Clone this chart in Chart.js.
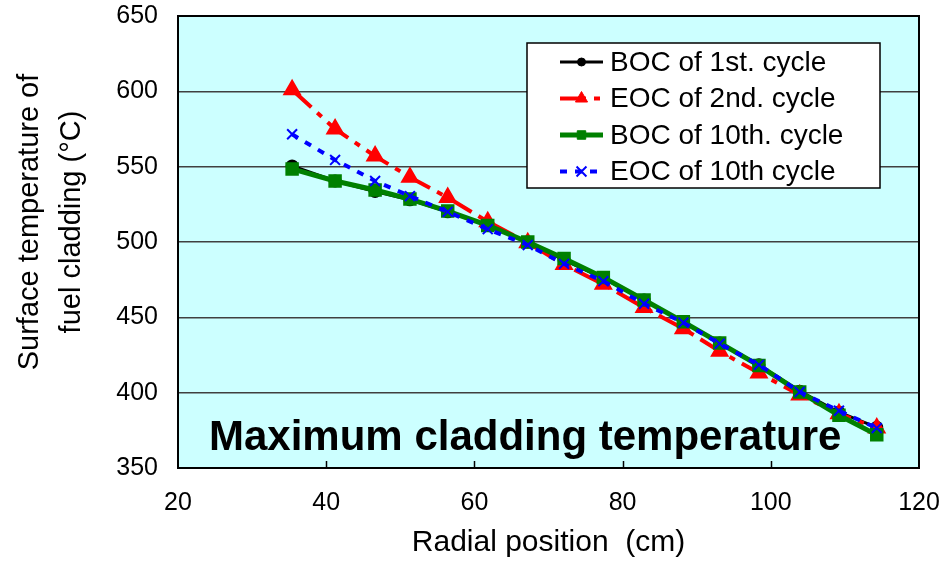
<!DOCTYPE html>
<html>
<head>
<meta charset="utf-8">
<script src="https://cdn.jsdelivr.net/npm/chart.js@4"></script>
<style>
  body { margin: 0; background: #fff; }
  #wrap { width: 939px; height: 565px; }
</style>
</head>
<body>
<div id="wrap"><canvas id="chart" width="939" height="565"></canvas></div>
<script>
// radial positions (cm)
const xs = [35.4, 41.2, 46.6, 51.3, 56.4, 61.8, 67.2, 72.1, 77.4, 82.9, 88.2, 93.1, 98.4, 103.9, 109.2, 114.3]
// surface temperature of cladding (degC)
const boc1 = [550.5, 540.5, 533.5, 528, 520, 511, 500, 488, 476, 461.5, 447, 433, 418.5, 401, 387, 377]
const eoc2 = [601, 575, 557, 543, 529.5, 513.5, 499.5, 485, 472, 456.5, 442.5, 427.5, 413, 398.5, 386, 376.5]
const boc10 = [548.5, 540.5, 534.5, 528.5, 520.5, 511, 500, 489, 476.5, 461.5, 447, 433, 418, 400.5, 385, 372]
const eoc10 = [571.5, 554.5, 540.5, 530.5, 520, 508.5, 498, 485.5, 474, 459, 446.5, 432.5, 418.5, 400.5, 388, 376.5]
const seriesNames = ['BOC of 1st. cycle', 'EOC of 2nd. cycle', 'BOC of 10th. cycle', 'EOC of 10th cycle']
const xTicks = [20, 40, 60, 80, 100, 120]
const yTicks = [350, 400, 450, 500, 550, 600, 650]
const yTitle = ['Surface temperature of', 'fuel cladding (°C)']

const FONT = '"Liberation Sans", Arial, sans-serif'
const pts = ys => xs.map((x, i) => ({ x: x, y: ys[i] }))

const datasets = [
  { label: seriesNames[0], data: pts(boc1), borderColor: '#000', backgroundColor: '#000',
    borderWidth: 3, pointStyle: 'circle', pointRadius: 5, order: 3 },
  { label: seriesNames[1], data: pts(eoc2), borderColor: '#ff0000', backgroundColor: '#ff0000',
    borderWidth: 4, borderDash: [26, 8, 6, 8], pointStyle: 'triangle', pointRadius: 7, order: 2 },
  { label: seriesNames[2], data: pts(boc10), borderColor: '#008000', backgroundColor: '#008000',
    borderWidth: 5, pointStyle: 'rect', pointRadius: 6, order: 1 },
  { label: seriesNames[3], data: pts(eoc10), borderColor: '#0000ff', backgroundColor: '#0000ff',
    borderWidth: 4, borderDash: [7, 8], pointStyle: 'crossRot', pointRadius: 7, pointBorderWidth: 2, order: 0 }
]
datasets.forEach(d => { d.showLine = true; d.tension = 0; d.fill = false; d.pointBorderColor = d.borderColor })

// keep tick labels from pushing the plot area in
const noPad = s => { s.paddingTop = 0; s.paddingRight = 0; s.paddingBottom = 0; s.paddingLeft = 0 }

const frame = {
  id: 'frame',
  beforeDraw(chart) {
    const a = chart.chartArea, c = chart.ctx
    c.save()
    c.fillStyle = '#ccffff'
    c.fillRect(a.left, a.top, a.right - a.left, a.bottom - a.top)
    c.restore()
  },
  afterDatasetsDraw(chart) {
    const a = chart.chartArea, c = chart.ctx, sx = chart.scales.x
    c.save()
    // inward ticks on the x axis
    c.strokeStyle = '#000'
    c.lineWidth = 1.5
    xTicks.slice(1, -1).forEach(t => {
      const px = Math.round(sx.getPixelForValue(t)) + 0.5
      c.beginPath(); c.moveTo(px, a.bottom); c.lineTo(px, a.bottom - 7); c.stroke()
    })
    c.lineWidth = 2
    c.strokeRect(a.left, a.top, a.right - a.left, a.bottom - a.top)

    // big label inside the plot
    c.fillStyle = '#000'
    c.font = 'bold 42px ' + FONT
    c.textBaseline = 'alphabetic'
    c.fillText('Maximum cladding temperature', a.left + 31, a.bottom - 18)

    // y axis title, two lines, a bit above centre like the original
    c.save()
    c.translate(0, 222)
    c.rotate(-Math.PI / 2)
    c.font = '29px ' + FONT
    c.textAlign = 'center'
    c.textBaseline = 'middle'
    c.fillText(yTitle[0], 0, 30)
    c.fillText(yTitle[1], 0, 72)
    c.restore()

    // legend box
    const lx = a.right - 392, ly = a.top + 27, lw = 353, lh = 145
    c.fillStyle = '#fff'
    c.fillRect(lx, ly, lw, lh)
    c.lineWidth = 1.5
    c.strokeStyle = '#000'
    c.strokeRect(lx, ly, lw, lh)
    datasets.forEach((d, i) => {
      const y = ly + 19 + i * 36.5
      const x0 = lx + 33, x1 = lx + 76
      c.save()
      c.strokeStyle = d.borderColor
      c.lineWidth = d.borderWidth
      c.setLineDash(d.borderDash || [])
      c.beginPath(); c.moveTo(x0, y); c.lineTo(x1, y); c.stroke()
      c.setLineDash([])
      c.fillStyle = d.borderColor
      c.lineWidth = d.pointBorderWidth || 1
      Chart.helpers.drawPoint(c, {
        pointStyle: d.pointStyle, radius: d.pointStyle === 'circle' ? 4 : d.pointRadius,
        borderWidth: d.pointBorderWidth || 1, rotation: 0
      }, (x0 + x1) / 2, y)
      c.restore()
      c.fillStyle = '#000'
      c.font = '28px ' + FONT
      c.textBaseline = 'middle'
      c.fillText(d.label, lx + 83, y + 1)
    })
    c.restore()
  }
}

const ctx = document.getElementById('chart').getContext('2d')
const chart = new Chart(ctx, {
  type: 'scatter',
  data: { datasets: datasets },
  options: {
    responsive: false,
    animation: false,
    layout: { padding: { top: 16, right: 20, left: 0, bottom: 0 } },
    plugins: { legend: { display: false }, tooltip: { enabled: false } },
    scales: {
      x: {
        type: 'linear', min: 20, max: 120,
        afterBuildTicks: s => { s.ticks = xTicks.map(v => ({ value: v })) },
        afterFit: s => { s.height = 97; noPad(s) },
        grid: { display: false, drawTicks: false },
        border: { display: false },
        ticks: { color: '#000', font: { family: FONT, size: 25 }, padding: 20, maxRotation: 0 },
        title: { display: true, text: 'Radial position  (cm)', color: '#000',
                 font: { family: FONT, size: 30 }, padding: { top: 8 } }
      },
      y: {
        type: 'linear', min: 350, max: 650,
        afterBuildTicks: s => { s.ticks = yTicks.map(v => ({ value: v })) },
        afterFit: s => { s.width = 178; noPad(s) },
        grid: { color: '#404040', lineWidth: 1.5, drawTicks: false },
        border: { display: false },
        ticks: { color: '#000', font: { family: FONT, size: 25 }, padding: 20 },
        title: { display: false }
      }
    }
  },
  plugins: [frame]
})
</script>
</body>
</html>
